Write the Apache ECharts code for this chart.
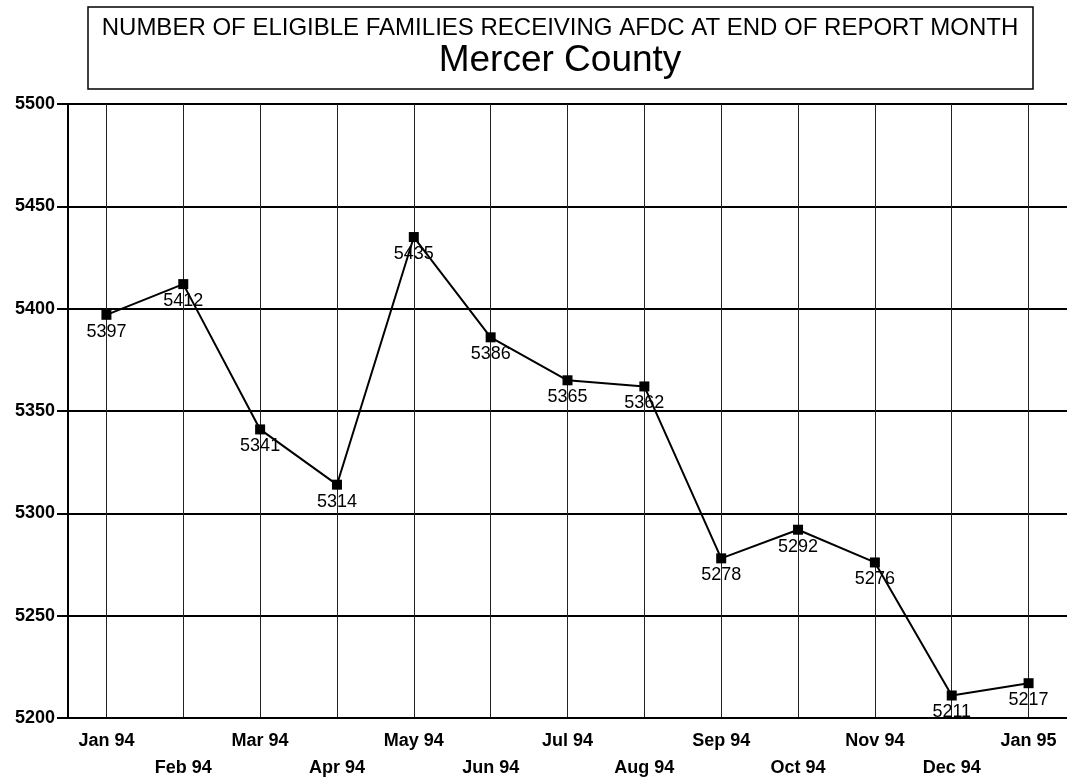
<!DOCTYPE html>
<html>
<head>
<meta charset="utf-8">
<script src="https://cdn.jsdelivr.net/npm/echarts@6/dist/echarts.min.js"></script>
<style>
  html, body { margin: 0; padding: 0; background: #fff; }
  #chart { width: 1067px; height: 782px; }
</style>
</head>
<body>
<div id="chart"></div>
<script>
// months on the x axis
var months = ["Jan 94", "Feb 94", "Mar 94", "Apr 94", "May 94", "Jun 94", "Jul 94",
  "Aug 94", "Sep 94", "Oct 94", "Nov 94", "Dec 94", "Jan 95"];
// eligible families receiving AFDC
var families = [5397, 5412, 5341, 5314, 5435, 5386, 5365, 5362, 5278, 5292, 5276, 5211, 5217];
// y axis scale
var yMin = 5200;
var yMax = 5500;
var yStep = 50;

var titleLine1 = "NUMBER OF ELIGIBLE FAMILIES RECEIVING AFDC AT END OF REPORT MONTH";
var titleLine2 = "Mercer County";

var font = "'Liberation Sans', Arial, sans-serif";

var chart = echarts.init(document.getElementById("chart"));
chart.setOption({
  backgroundColor: "#fff",
  animation: false,
  textStyle: { fontFamily: font, color: "#000" },
  graphic: [
    {
      type: "rect",
      shape: { x: 88, y: 7, width: 945, height: 82 },
      style: { fill: "#fff", stroke: "#000", lineWidth: 1.5 }
    },
    {
      type: "text",
      x: 560, y: 28,
      style: {
        text: titleLine1, fill: "#000", font: "24px " + font,
        align: "center", verticalAlign: "middle"
      }
    },
    {
      type: "text",
      x: 560, y: 61,
      style: {
        text: titleLine2, fill: "#000", font: "37px " + font,
        align: "center", verticalAlign: "middle"
      }
    }
  ],
  grid: { left: 68, right: 0, top: 104, bottom: 59 },
  xAxis: {
    type: "category",
    data: months,
    boundaryGap: true,
    axisLine: { lineStyle: { color: "#000", width: 2 } },
    axisTick: { alignWithLabel: true, length: 10, lineStyle: { color: "#000", width: 1.5 } },
    axisLabel: {
      interval: 0,
      margin: 10,
      color: "#000",
      fontSize: 18,
      fontWeight: "bold",
      lineHeight: 27,
      formatter: function (v, i) {
        return i % 2 === 0 ? v : "\n" + v;
      }
    },
    splitLine: {
      show: true,
      alignWithLabel: true,
      lineStyle: { color: "#222", width: 1 }
    }
  },
  yAxis: {
    type: "value",
    min: yMin,
    max: yMax,
    interval: yStep,
    axisLine: { show: true, lineStyle: { color: "#000", width: 2 } },
    axisTick: { show: true, length: 11, lineStyle: { color: "#000", width: 2 } },
    axisLabel: {
      margin: 13, color: "#000", fontSize: 18, fontWeight: "bold",
      formatter: function (v) { return String(v); }
    },
    splitLine: { lineStyle: { color: "#000", width: 2 } }
  },
  series: [
    {
      type: "line",
      data: families,
      symbol: "rect",
      symbolSize: 10,
      itemStyle: { color: "#000" },
      lineStyle: { color: "#000", width: 2 },
      label: {
        show: true,
        position: "bottom",
        distance: 3,
        color: "#000",
        fontSize: 18
      }
    }
  ]
});
</script>
</body>
</html>
